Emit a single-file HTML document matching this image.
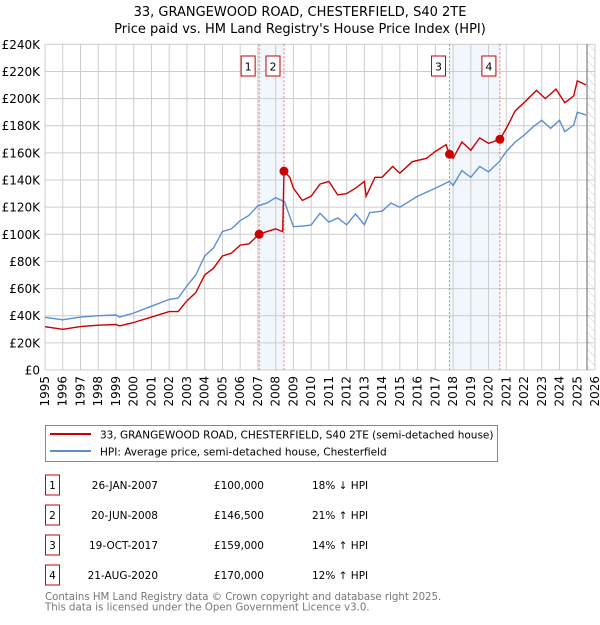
<!DOCTYPE html>
<html><head><meta charset="utf-8"><style>
body{margin:0;background:#fff;}
svg text{font-family:"DejaVu Sans","Liberation Sans",sans-serif;}
</style></head><body>
<svg id="chart" width="600" height="620" xmlns="http://www.w3.org/2000/svg">
<text x="300" y="16" text-anchor="middle" font-size="13">33, GRANGEWOOD ROAD, CHESTERFIELD, S40 2TE</text>
<text x="300" y="33" text-anchor="middle" font-size="13">Price paid vs. HM Land Registry's House Price Index (HPI)</text>
<g id="plot"></g>
<g>
<rect x="45.5" y="425.5" width="452" height="36" fill="#fff" stroke="#888"/>
<line x1="50" y1="434" x2="91" y2="434" stroke="#cc0000" stroke-width="2"/>
<text x="100" y="438.5" font-size="10.5">33, GRANGEWOOD ROAD, CHESTERFIELD, S40 2TE (semi-detached house)</text>
<line x1="50" y1="451" x2="91" y2="451" stroke="#5b8fd4" stroke-width="2"/>
<text x="100" y="455.5" font-size="10.5">HPI: Average price, semi-detached house, Chesterfield</text>
</g>
<g id="table"></g>
<text x="45" y="600" font-size="10.2" fill="#777">Contains HM Land Registry data © Crown copyright and database right 2025.</text>
<text x="45" y="610.5" font-size="10.2" fill="#777">This data is licensed under the Open Government Licence v3.0.</text>
</svg>
<script>
const yTicks=[0,20,40,60,80,100,120,140,160,180,200,220,240];
const years=[1995,1996,1997,1998,1999,2000,2001,2002,2003,2004,2005,2006,2007,2008,2009,2010,2011,2012,2013,2014,2015,2016,2017,2018,2019,2020,2021,2022,2023,2024,2025,2026];
const hpiT=[1995,1996,1997,1998,1999,1999.2,2000,2001,2002,2002.5,2003,2003.5,2004,2004.5,2005,2005.5,2006,2006.5,2007,2007.5,2008,2008.5,2009,2009.5,2010,2010.5,2011,2011.5,2012,2012.5,2013,2013.3,2014,2014.5,2015,2016,2017,2017.8,2018,2018.5,2019,2019.5,2020,2020.6,2021,2021.5,2022,2022.5,2023,2023.5,2024,2024.3,2024.8,2025,2025.5];
const hpiV=[38.8,37,39,40,40.5,39,42,47,52,53,62,70,84,90,102,104,110,114,121,123,127,124,105.6,106,106.8,115.5,109,112,107,115,107,116,117,123,120,128,134,139,136,147,142,150,146,153.5,161,168,173,179,184,178,184,175.6,180.5,190,188];
const ppT=[1995,1996,1997,1998,1999,1999.2,2000,2001,2002,2002.5,2003,2003.5,2004,2004.5,2005,2005.5,2006,2006.5,2007.07,2007.5,2008,2008.4,2008.47,2008.8,2009,2009.5,2010,2010.5,2011,2011.5,2012,2012.5,2013,2013.1,2013.6,2014,2014.6,2015,2015.7,2016.5,2017,2017.6,2017.8,2018,2018.5,2019,2019.5,2020,2020.64,2021,2021.5,2022,2022.7,2023.2,2023.8,2024.3,2024.8,2025,2025.5];
const ppV=[31.9,30,32,33,33.5,32.5,35,39,43,43,51,57,70,75,84,86,92,93,100,102,104,102,146.5,142,134,125,128,137,139,129,130,134,139,128,142,142,150,145,153.5,156,161,166,159,156,168,162,171,167,170,178,191,197,206,200,207,197,202,213,210];
const saleT=[2007.07,2008.47,2017.8,2020.64];
const saleV=[100,146.5,159,170];
const saleLabels=["1","2","3","4"];
const saleDates=["26-JAN-2007","20-JUN-2008","19-OCT-2017","21-AUG-2020"];
const salePrices=["£100,000","£146,500","£159,000","£170,000"];
const saleHpi=["18% ↓ HPI","21% ↑ HPI","14% ↑ HPI","12% ↑ HPI"];
const x0=45,x1=595,yTop=44.3,yBot=370;
const X=t=>x0+(t-1995)/(2026-1995)*(x1-x0);
const Y=v=>yBot-v/240*(yBot-yTop);
const NS="http://www.w3.org/2000/svg";
const plot=document.getElementById('plot');
function mk(tag,attrs,parent){const e=document.createElementNS(NS,tag);for(const k in attrs)e.setAttribute(k,attrs[k]);(parent||plot).appendChild(e);return e;}
for(let i=0;i<4;i+=2){const r=mk('rect',{x:X(saleT[i]),y:yTop,width:X(saleT[i+1])-X(saleT[i]),height:yBot-yTop,fill:'#f2f6fd'});

}
const defs=mk('defs',{});
const pat=mk('pattern',{id:'hatch',width:6,height:6,patternUnits:'userSpaceOnUse',patternTransform:'rotate(-45)'},defs);
mk('line',{x1:0,y1:0,x2:0,y2:6,stroke:'#ccc','stroke-width':1},pat);
const hx=X(2025.55);
const hr=mk('rect',{x:hx,y:yTop,width:x1-hx,height:yBot-yTop,fill:'url(#hatch)'});


years.forEach(y=>{const l=mk('line',{x1:X(y),x2:X(y),y1:yTop,y2:yBot,stroke:'#ccc'});


const t=mk('text',{x:0,y:0,'font-size':12,'text-anchor':'end',transform:`translate(${X(y)+4},${yBot+6}) rotate(-90)`});t.textContent=y;

});
yTicks.forEach(v=>{const l=mk('line',{x1:x0,x2:x1,y1:Y(v),y2:Y(v),stroke:'#ccc'});


const t=mk('text',{x:40,y:Y(v)+4.5,'font-size':12,'text-anchor':'end'});t.textContent=v===0?'£0':'£'+v+'K';

});
const bl=mk('line',{x1:hx,x2:hx,y1:yTop,y2:yBot,stroke:'#666'});


saleT.forEach((t,i)=>{const l=mk('line',{x1:X(t),x2:X(t),y1:yTop,y2:yBot,stroke:'#f05050','stroke-width':0.8,'stroke-dasharray':'2,2'});


const b=mk('rect',{x:X(t)-18,y:56,width:14,height:20,fill:'#fff',stroke:'#cc0000'});


const tx=mk('text',{x:X(t)-11,y:70.5,'font-size':11,'text-anchor':'middle'});tx.textContent=saleLabels[i];

});
function path(T,V,c,name){const d=T.map((t,i)=>(i?'L':'M')+X(t).toFixed(1)+','+Y(V[i]).toFixed(1)).join('');
const p=mk('path',{d:d,fill:'none',stroke:c,'stroke-width':1.4});

}
path(hpiT,hpiV,'#5b8fd4','hpi-line');
path(ppT,ppV,'#cc0000','price-paid-line');
saleT.forEach((t,i)=>{const c=mk('circle',{cx:X(t),cy:Y(saleV[i]),r:4.5,fill:'#cc0000'});

});
const tb=document.getElementById('table');
saleLabels.forEach((s,i)=>{const cy=485+i*30;
const b=mk('rect',{x:45.5,y:cy-10,width:14,height:20,fill:'#fff',stroke:'#cc0000'},tb);


const cells=[[s,52.5,'middle'],[saleDates[i],158,'end'],[salePrices[i],264,'end'],[saleHpi[i],312,'start']];
cells.forEach(c=>{const t=mk('text',{x:c[1],y:cy+4,'font-size':10.5,'text-anchor':c[2]},tb);t.textContent=c[0];

});});
</script>
</body></html>
